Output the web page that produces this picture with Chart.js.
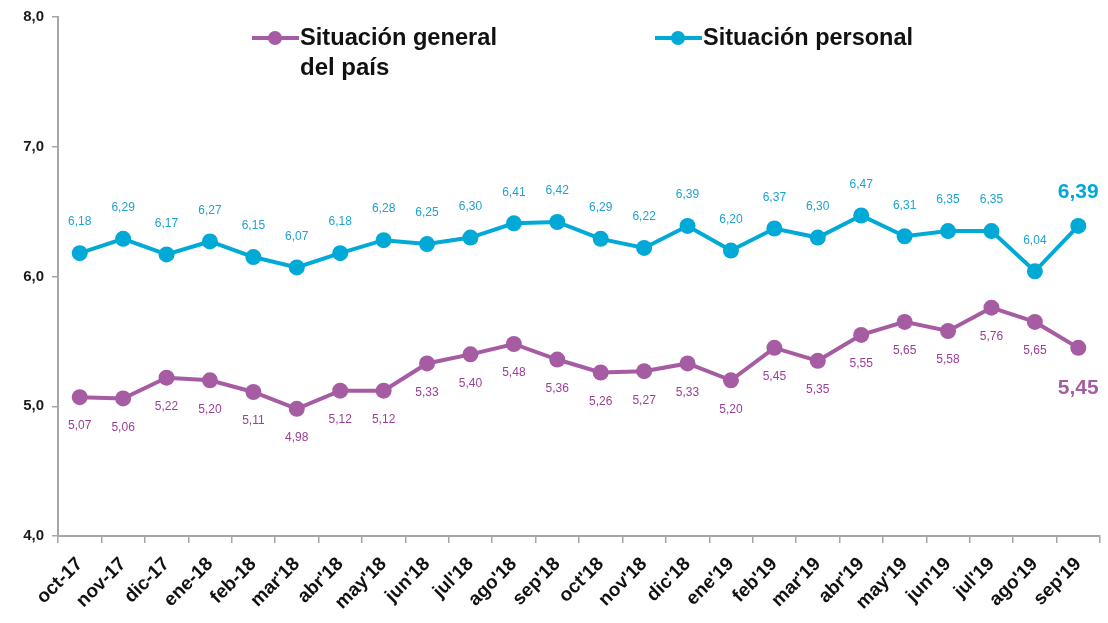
<!DOCTYPE html>
<html>
<head>
<meta charset="utf-8">
<script src="https://cdn.jsdelivr.net/npm/chart.js@4/dist/chart.umd.min.js"></script>
<style>
    html, body { margin: 0; padding: 0; background: #ffffff; }
    #wrap { width: 1108px; height: 623px; position: relative; }
</style>
</head>
<body>
<div id="wrap"><canvas id="chart"></canvas></div>
<script>
const months = ['oct-17', 'nov-17', 'dic-17', 'ene-18', 'feb-18', "mar'18", "abr'18", "may'18",
    "jun'18", "jul'18", "ago'18", "sep'18", "oct'18", "nov'18", "dic'18", "ene'19", "feb'19",
    "mar'19", "abr'19", "may'19", "jun'19", "jul'19", "ago'19", "sep'19"];

const personal = [6.18, 6.29, 6.17, 6.27, 6.15, 6.07, 6.18, 6.28, 6.25, 6.30, 6.41, 6.42,
    6.29, 6.22, 6.39, 6.20, 6.37, 6.30, 6.47, 6.31, 6.35, 6.35, 6.04, 6.39];

const general = [5.07, 5.06, 5.22, 5.20, 5.11, 4.98, 5.12, 5.12, 5.33, 5.40, 5.48, 5.36,
    5.26, 5.27, 5.33, 5.20, 5.45, 5.35, 5.55, 5.65, 5.58, 5.76, 5.65, 5.45];

const yTicks = [4, 5, 6, 7, 8];

const CYAN = '#00a9d6';
const PURPLE = '#a65ca2';

const fmt = v => v.toFixed(2).replace('.', ',');

// value labels: personal above, general below, last point bigger
const valueLabels = {
    id: 'valueLabels',
    afterDatasetsDraw(chart) {
        const ctx = chart.ctx;
        ctx.save();
        ctx.textAlign = 'center';
        ctx.textBaseline = 'middle';
        chart.data.datasets.forEach((ds, di) => {
            const meta = chart.getDatasetMeta(di);
            const above = ds.labelSide === 'above';
            meta.data.forEach((pt, i) => {
                const last = i === ds.data.length - 1;
                if (last) {
                    ctx.font = 'bold 21px "Liberation Sans", Arial, sans-serif';
                    ctx.fillStyle = ds.borderColor;
                    ctx.fillText(fmt(ds.data[i]), pt.x, pt.y + (above ? -34 : 40));
                } else {
                    ctx.font = '12px "Liberation Sans", Arial, sans-serif';
                    ctx.fillStyle = ds.labelColor;
                    ctx.fillText(fmt(ds.data[i]), pt.x, pt.y + (above ? -31 : 29));
                }
            });
        });
        ctx.restore();
    }
};

// legend drawn inside the plot area
const innerLegend = {
    id: 'innerLegend',
    afterDraw(chart) {
        const ctx = chart.ctx;
        ctx.save();
        const items = [
            { color: PURPLE, x: 252, lines: ['Situación general', 'del país'], w: 197 },
            { color: CYAN, x: 655, lines: ['Situación personal'], w: 210 }
        ];
        items.forEach(it => {
            const y = 38;
            ctx.strokeStyle = it.color;
            ctx.lineWidth = 4;
            ctx.beginPath();
            ctx.moveTo(it.x, y);
            ctx.lineTo(it.x + 47, y);
            ctx.stroke();
            ctx.fillStyle = it.color;
            ctx.beginPath();
            ctx.arc(it.x + 23, y, 7, 0, Math.PI * 2);
            ctx.fill();
            ctx.fillStyle = '#111111';
            ctx.font = 'bold 24px "Liberation Sans Narrow", "Arial Narrow", "Liberation Sans", Arial, sans-serif';
            ctx.textAlign = 'left';
            ctx.textBaseline = 'middle';
            it.lines.forEach((t, k) => {
                const m = ctx.measureText(t).width;
                const maxW = k === 0 ? it.w : it.w * t.length / it.lines[0].length * 1.1;
                ctx.fillText(t, it.x + 48, y + k * 30, Math.min(m, maxW));
            });
        });
        ctx.restore();
    }
};

new Chart(document.getElementById('chart').getContext('2d'), {
    type: 'line',
    data: {
        labels: months,
        datasets: [
            {
                label: 'Situación general del país',
                data: general,
                borderColor: PURPLE,
                backgroundColor: PURPLE,
                labelColor: '#9b3f97',
                labelSide: 'below',
                borderWidth: 4,
                pointRadius: 8,
                pointHoverRadius: 8,
                pointBorderWidth: 0,
                tension: 0
            },
            {
                label: 'Situación personal',
                data: personal,
                borderColor: CYAN,
                backgroundColor: CYAN,
                labelColor: '#1ea2cf',
                labelSide: 'above',
                borderWidth: 4,
                pointRadius: 8,
                pointHoverRadius: 8,
                pointBorderWidth: 0,
                tension: 0
            }
        ]
    },
    options: {
        responsive: true,
        maintainAspectRatio: false,
        animation: false,
        layout: {
            padding: { top: 16, right: 8, left: 0, bottom: 0 }
        },
        plugins: {
            legend: { display: false },
            tooltip: { enabled: false }
        },
        scales: {
            x: {
                offset: true,
                afterFit: scale => { scale.height = 87; },
                grid: {
                    offset: true,
                    drawOnChartArea: false,
                    drawTicks: true,
                    tickLength: 7,
                    color: '#a6a6a6',
                    lineWidth: 1.5
                },
                border: { color: '#a6a6a6', width: 2 },
                ticks: {
                    autoSkip: false,
                    maxRotation: 45,
                    minRotation: 45,
                    padding: 10,
                    color: '#111111',
                    font: { family: '"Liberation Sans", Arial, sans-serif', size: 19, weight: 'bold' }
                }
            },
            y: {
                min: 4,
                max: 8,
                afterFit: scale => { scale.width = 58; },
                afterBuildTicks: scale => { scale.ticks = yTicks.map(v => ({ value: v })); },
                grid: {
                    drawOnChartArea: false,
                    drawTicks: true,
                    tickLength: 6,
                    color: '#a6a6a6',
                    lineWidth: 1.5
                },
                border: { color: '#a6a6a6', width: 2 },
                ticks: {
                    padding: 8,
                    color: '#1a1a1a',
                    callback: v => v.toFixed(1).replace('.', ','),
                    font: { family: '"Liberation Sans", Arial, sans-serif', size: 15, weight: 'bold' }
                }
            }
        }
    },
    plugins: [valueLabels, innerLegend]
});
</script>
</body>
</html>
